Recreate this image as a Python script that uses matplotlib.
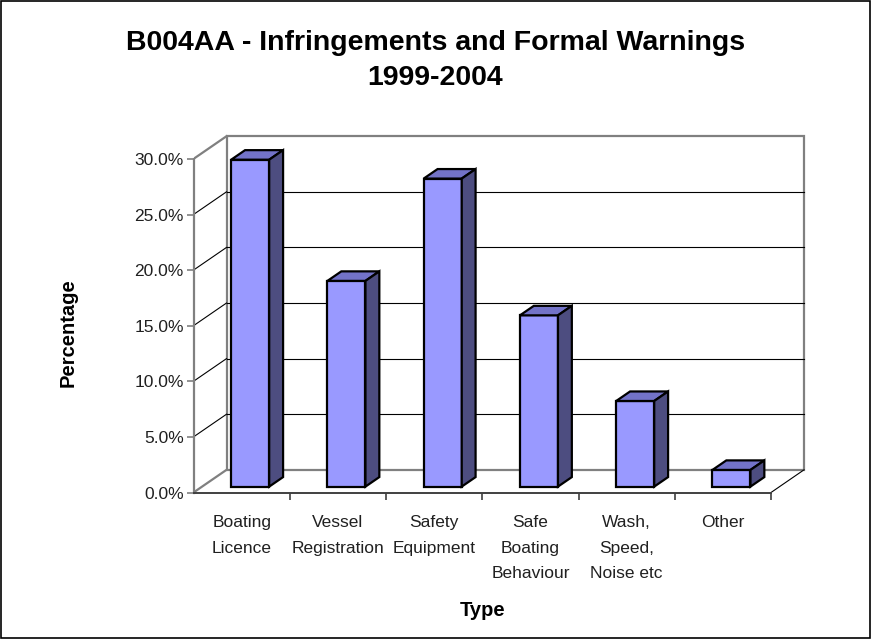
import matplotlib
matplotlib.use("Agg")
import matplotlib.pyplot as plt
from matplotlib.patches import Polygon, Rectangle

# ── Data ───────────────────────────────────────────────────────────────────
categories = ["Boating\nLicence", "Vessel\nRegistration", "Safety\nEquipment",
              "Safe\nBoating\nBehaviour", "Wash,\nSpeed,\nNoise etc", "Other"]
percent = [29.4, 18.5, 27.7, 15.4, 7.7, 1.5]
y_ticks = [0, 5, 10, 15, 20, 25, 30]

# ── Styling / 3D geometry (oblique projection, data units) ─────────────────
DX, DY = 0.343, 2.04          # full depth offset of the back wall
F0, F1 = 0.26, 0.68           # bar depth range as fraction of full depth
BAR_W = 0.395
C_FRONT, C_TOP, C_SIDE = "#9999FF", "#7373C8", "#4D4D80"
GRAY = "#808080"
FONT = "Liberation Sans"
TICK_FS = 12.5

plt.rcParams["font.family"] = [FONT, "DejaVu Sans"]

fig = plt.figure(figsize=(8.71, 6.39), dpi=100)
fig.patches.append(Rectangle((0.0008, 0.001), 0.9984, 0.9975, transform=fig.transFigure,
                             fill=False, edgecolor="black", lw=1.2))

ax = fig.add_axes([0.22216, 0.22926, 0.71277, 0.56557])
n = len(categories)
ymax = y_ticks[-1]
ax.set_xlim(0, 6.45)
ax.set_ylim(0, 32.5)

# back wall
ax.add_patch(Rectangle((DX, DY), n, ymax, fill=False, edgecolor=GRAY, lw=1.6, zorder=1))
for t in y_ticks[1:-1]:
    ax.plot([DX, n + DX], [t + DY, t + DY], color="black", lw=0.8, zorder=1)
    # side wall gridline
    ax.plot([0, DX], [t, t + DY], color="black", lw=0.8, zorder=1)
# side wall edges
ax.plot([0, DX], [ymax, ymax + DY], color=GRAY, lw=1.6, zorder=1)
ax.plot([0, DX], [0, DY], color=GRAY, lw=1.6, zorder=1)
# floor right edge
ax.plot([n, n + DX], [0, DY], color="black", lw=0.8, zorder=1)

# bars
for i, v in enumerate(percent):
    x0 = i + 0.5 - BAR_W / 2 + F0 * DX
    y0 = F0 * DY
    ddx, ddy = (F1 - F0) * DX, (F1 - F0) * DY
    ax.bar(x0, v, width=BAR_W, bottom=y0, align="edge", color=C_FRONT,
           edgecolor="black", lw=1.6, zorder=3)
    ax.add_patch(Polygon([(x0, y0 + v), (x0 + BAR_W, y0 + v),
                          (x0 + BAR_W + ddx, y0 + v + ddy), (x0 + ddx, y0 + v + ddy)],
                         closed=True, facecolor=C_TOP, edgecolor="black", lw=1.6, zorder=3))
    ax.add_patch(Polygon([(x0 + BAR_W, y0), (x0 + BAR_W + ddx, y0 + ddy),
                          (x0 + BAR_W + ddx, y0 + v + ddy), (x0 + BAR_W, y0 + v)],
                         closed=True, facecolor=C_SIDE, edgecolor="black", lw=1.6, zorder=3))

# axes
for s in ["top", "right"]:
    ax.spines[s].set_visible(False)
ax.spines["left"].set_bounds(0, ymax)
ax.spines["left"].set_color(GRAY)
ax.spines["left"].set_linewidth(1.6)
ax.spines["bottom"].set_bounds(0, n)
ax.spines["bottom"].set_color("#404040")
ax.spines["bottom"].set_linewidth(1.4)

ax.set_yticks(y_ticks)
ax.set_yticklabels([f"{t:.1f}%" for t in y_ticks], fontsize=TICK_FS, color="#202020")
ax.tick_params(axis="y", length=5, width=1.2, color=GRAY, pad=2)

ax.set_xticks(range(1, n + 1))
ax.set_xticklabels([])
ax.tick_params(axis="x", which="major", length=5, width=1.2, color="#404040")
ax.set_xticks([i + 0.5 for i in range(n)], minor=True)
ax.set_xticklabels(categories, minor=True, fontsize=TICK_FS, linespacing=1.9,
                   color="#202020")
ax.tick_params(axis="x", which="minor", length=0, pad=16)

# titles
fig.text(0.5, 1 - 43 / 639, "B004AA - Infringements and Formal Warnings",
         ha="center", va="center", fontsize=20.5, fontweight="bold")
fig.text(0.5, 1 - 78 / 639, "1999-2004",
         ha="center", va="center", fontsize=20.5, fontweight="bold")
fig.text(68 / 871, 1 - 333 / 639, "Percentage", rotation=90,
         ha="center", va="center", fontsize=14.5, fontweight="bold")
fig.text(483 / 871, 1 - 611 / 639, "Type",
         ha="center", va="center", fontsize=14.5, fontweight="bold")

fig.savefig("out.png", dpi=100)
